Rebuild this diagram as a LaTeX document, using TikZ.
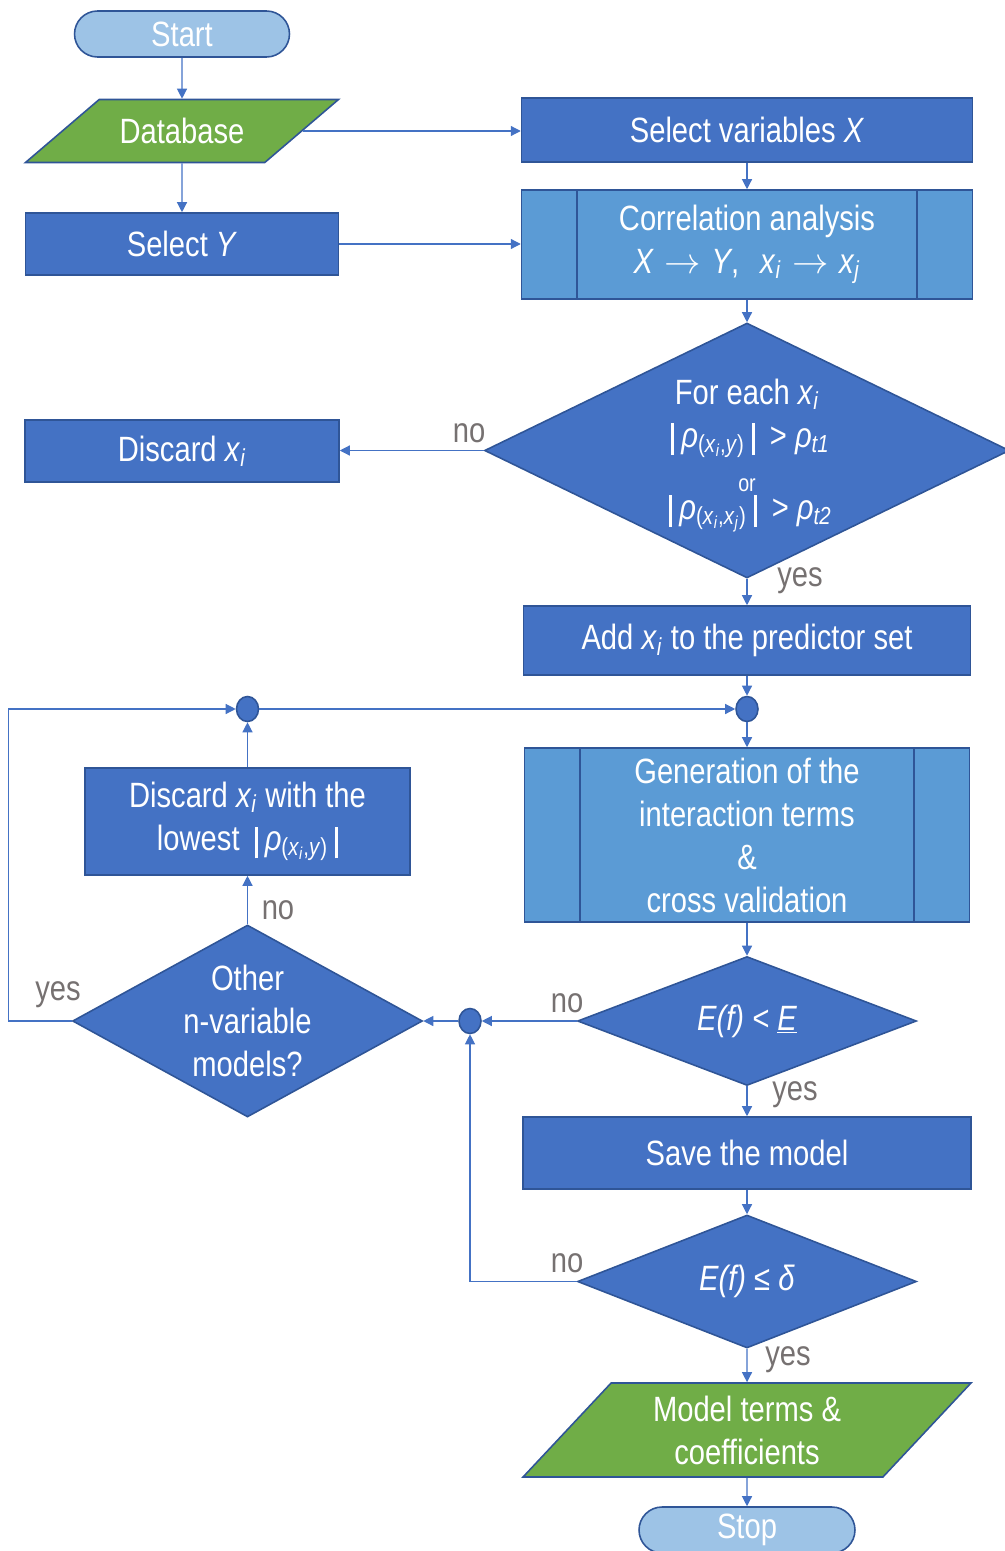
\documentclass[tikz,border=0pt]{standalone}
\usepackage{fontspec}
\setmainfont{Liberation Sans}[FakeStretch=0.83]
\usetikzlibrary{arrows.meta,calc,shapes.geometric,shapes.misc}
\definecolor{boxblue}{HTML}{4472C4}
\definecolor{edgeblue}{HTML}{2F5597}
\definecolor{subblue}{HTML}{5B9BD5}
\definecolor{capblue}{HTML}{9DC3E6}
\definecolor{datagreen}{HTML}{70AD47}
\definecolor{labelgray}{HTML}{767171}
\newcommand{\vx}[1]{\textit{x}\textsubscript{\textit{#1}}}
\newcommand{\absbar}{\hspace{4pt}\rule[-4.5pt]{1.7pt}{18pt}\hspace{4pt}}
\tikzset{
  base/.style={
    draw=edgeblue,
    line width=0.9pt,
    text=white,
    align=center,
    inner sep=0pt,
    font=\fontsize{20}{24.5}\selectfont
  },
  term/.style={
    base,
    rounded rectangle,
    fill=capblue,
    minimum width=4.3cm,
    minimum height=0.92cm
  },
  io/.style={
    base,
    trapezium,
    trapezium stretches body=true,
    fill=datagreen
  },
  proc/.style={
    base,
    rectangle,
    fill=boxblue
  },
  subproc/.style={
    base,
    rectangle,
    fill=subblue
  },
  decision/.style={
    base,
    diamond,
    fill=boxblue
  },
  joint/.style={
    ellipse,
    draw=edgeblue,
    line width=0.9pt,
    fill=boxblue,
    minimum width=0.44cm,
    minimum height=0.5cm,
    inner sep=0pt
  },
  arrow/.style={
    -{Triangle[length=2mm,width=2mm]},
    line width=0.7pt,
    boxblue
  },
  lbl/.style={
    text=labelgray,
    inner sep=0pt,
    font=\fontsize{20}{24}\selectfont
  }
}
\begin{document}
\begin{tikzpicture}[x=0.02cm, y=-0.02cm]
\useasboundingbox (0,0) rectangle (1004,1551);
% left column
\node[term] (start) at (182,34) {Start};
\node[io, trapezium left angle=40, trapezium right angle=140, inner ysep=10.25pt,
      minimum width=6.26cm, minimum height=1.26cm] (db) at (182,131) {Database};
\node[proc, minimum width=6.26cm, minimum height=1.24cm] (sely) at (182,244) {Select \textit{Y}};
\node[proc, minimum width=6.28cm, minimum height=1.24cm] (disc) at (182,451) {Discard \vx{i}};
% right column
\node[proc, minimum width=9.02cm, minimum height=1.28cm] (selx) at (747,130) {Select variables \textit{X}};
\node[subproc, minimum width=9.02cm, minimum height=2.18cm] (corr) at (747,244.5)
  {Correlation analysis\\
   \textit{X}\hspace{6pt}$\rightarrow$\hspace{6pt}\textit{Y},\hspace{12pt}\vx{i}\hspace{6pt}$\rightarrow$\hspace{6pt}\vx{j}};
\node[decision, minimum width=10.5cm, minimum height=5.1cm, aspect=2.06] (each) at (747,450.5)
  {\rule{0pt}{20pt}For each \vx{i}\\
   \absbar\textit{ρ}\textsubscript{(\vx{i},\textit{y})}\absbar{} > \textit{ρ}\textsubscript{\textit{t1}}\\[1pt]
   {\fontsize{13.5}{13.5}\selectfont or}\\[-9pt]
   \absbar\textit{ρ}\textsubscript{(\vx{i},\vx{j})}\absbar{} > \textit{ρ}\textsubscript{\textit{t2}}};
\node[proc, minimum width=8.94cm, minimum height=1.38cm] (add) at (747,640.5) {Add \vx{i} to the predictor set};
\node[joint] (jr) at (747,709) {};
\node[subproc, minimum width=8.9cm, minimum height=3.48cm] (gen) at (747,835)
  {Generation of the\\ interaction terms\\ \&\\ cross validation};
\node[decision, minimum width=6.78cm, minimum height=2.58cm, aspect=2.6] (err) at (747,1021)
  {\textit{E(f) < \underline{E}}};
\node[proc, minimum width=8.96cm, minimum height=1.44cm] (save) at (747,1153) {Save the model};
\node[decision, minimum width=6.78cm, minimum height=2.66cm, aspect=2.6] (tol) at (747,1281.5)
  {\textit{E(f) ≤ δ}};
\node[io, trapezium left angle=46.6, trapezium right angle=133.4, inner ysep=6.9pt,
      minimum width=8.96cm, minimum height=1.88cm] (out) at (747,1430) {Model terms \&\\ coefficients};
\node[term, minimum width=4.32cm] (stop) at (747,1530) {Stop};
% loop column
\node[joint] (jl) at (247.5,709) {};
\node[proc, minimum width=6.5cm, minimum height=2.14cm] (low) at (247.5,821.5)
  {Discard \vx{i} with the\\ lowest \absbar\textit{ρ}\textsubscript{(\vx{i},\textit{y})}\absbar};
\node[decision, minimum width=7cm, minimum height=3.84cm, aspect=1.82] (other) at (247.5,1021)
  {Other\\ n-variable\\ models?};
\node[joint] (jb) at (470,1021) {};
\foreach \n in {corr,gen} {
  \draw[edgeblue, line width=0.9pt] ($(\n.north west)+(56,0)$) -- ($(\n.south west)+(56,0)$);
  \draw[edgeblue, line width=0.9pt] ($(\n.north east)+(-56,0)$) -- ($(\n.south east)+(-56,0)$);
}
% labels
\node[lbl] (no1) at (469,433) {no};
\node[lbl] (yes1) at (800,581) {yes};
\node[lbl] (no2) at (278,910) {no};
\node[lbl] (yes2) at (58,995) {yes};
\node[lbl] (no3) at (567,1003) {no};
\node[lbl] (yes3) at (795,1095) {yes};
\node[lbl] (no4) at (567,1263) {no};
\node[lbl] (yes4) at (788,1360) {yes};
% connectors
\draw[arrow] (start) -- (db);
\draw[arrow] (db) -- (sely);
\draw[arrow] (db.east) -- (db.east -| selx.west);
\draw[arrow] (sely) -- (sely -| corr.west);
\draw[arrow] (selx) -- (corr);
\draw[arrow] (corr) -- (each);
\draw[arrow] (each.west) -- (each.west -| disc.east);
\draw[arrow] (each) -- (add);
\draw[arrow] (add) -- (jr);
\draw[arrow] (jr) -- (gen);
\draw[arrow] (jl) -- (jr);
\draw[arrow] (low) -- (jl);
\draw[arrow] (other) -- (low);
\draw[arrow] (other.west) -- ++(-63,0) |- (jl);
\draw[arrow] (gen) -- (err);
\draw[arrow] (err) -- (jb);
\draw[arrow] (jb) -- (other);
\draw[arrow] (err) -- (save);
\draw[arrow] (save) -- (tol);
\draw[arrow] (tol.west) -| (jb);
\draw[arrow] (tol) -- (out);
\draw[arrow] (out) -- (stop);
\end{tikzpicture}
\end{document}
